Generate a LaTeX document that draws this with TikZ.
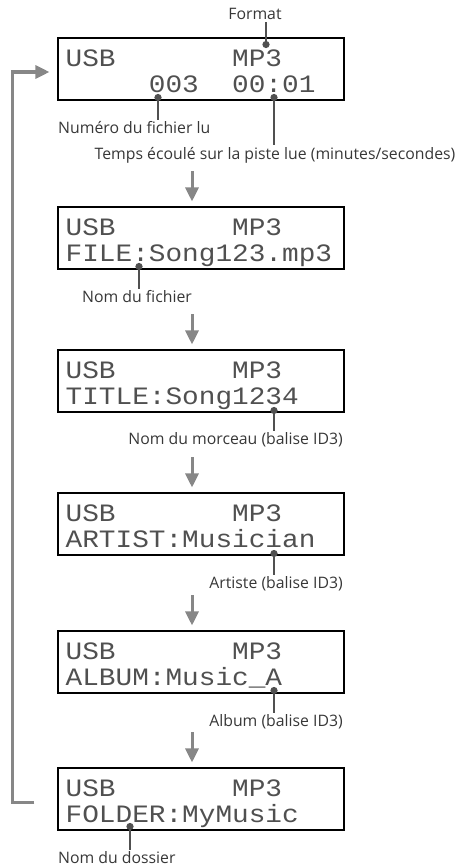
\documentclass[tikz,border=0pt]{standalone}
\usepackage{fontspec}
\setmainfont{Open Sans}
\newfontfamily\lcdfont[FakeStretch=1.11]{Liberation Mono}
\usetikzlibrary{arrows.meta, positioning, calc}
\definecolor{flowgray}{RGB}{135,135,135}
\definecolor{leadgray}{RGB}{80,80,80}
\definecolor{lcdtext}{RGB}{80,80,80}
\definecolor{labeltext}{RGB}{55,55,55}

\begin{document}
\begin{tikzpicture}[x=1pt, y=-1pt,
        lcdbox/.style={rectangle, draw=black, line width=1.1pt, minimum width=286pt,
                       minimum height=62pt, inner sep=0pt},
        lcdrow/.style={anchor=base west, inner sep=0pt, text=lcdtext,
                       font=\lcdfont\fontsize{25}{26}\selectfont},
        lbl/.style={text=labeltext, font=\fontsize{15.8}{18}\selectfont, inner sep=2pt},
        flow/.style={draw=flowgray, line width=3pt, -{Triangle[length=14pt, width=13pt]}},
        leader/.style={draw=leadgray, line width=2.6pt, {Circle[length=7pt]}-}
    ]
        \useasboundingbox (0,0) rectangle (471,867);
        \foreach \i/\y/\txt in {
            1/69/{~~~~~003~~00:01},
            2/238/{FILE:Song123.mp3},
            3/381/{TITLE:Song1234},
            4/524/{ARTIST:Musician},
            5/662/{ALBUM:Music\_A},
            6/799/{FOLDER:MyMusic}}
        {
            \node[lcdbox] (b\i) at (201,\y) {};
            \node[lcdrow] (u\i) at ($(b\i.north west)+(8,29)$) {USB~~~~~~~MP3};
            \node[lcdrow] (l\i) at ($(b\i.north west)+(8,55)$) {\txt};
        }
        \foreach \j in {2,...,6}
            \draw[flow] ([xshift=-9pt, yshift=35pt]b\j.north) -- ([xshift=-9pt, yshift=5pt]b\j.north);
        % retour vers le premier affichage
        \draw[flow] ([xshift=-23pt, yshift=-3pt]b6.west) -- ++(-22,0) |- ([xshift=-8pt, yshift=-3pt]b1.west);

        \node[lbl] (fmt) at (255,14) {Format};
        \node[lbl, anchor=west] (num) at (56,128) {Numéro du fichier lu};
        \node[lbl] (tps) at (275,155) {Temps écoulé sur la piste lue (minutes/secondes)};
        \node[lbl] (fic) at (137,297) {Nom du fichier};
        \node[lbl, anchor=east] (mor) at (345,440) {Nom du morceau (balise ID3)};
        \node[lbl, anchor=east] (art) at (345,584) {Artiste (balise ID3)};
        \node[lbl, anchor=east] (alb) at (345,722) {Album (balise ID3)};
        \node[lbl, anchor=west] (dos) at (56,858) {Nom du dossier};

        \coordinate (pfmt) at (266,48);
        \coordinate (pnum) at (158,94);
        \coordinate (ptps) at (274,94);
        \coordinate (pfic) at (139,263);
        \coordinate (pmor) at (274,407);
        \coordinate (part) at (274,550);
        \coordinate (palb) at (274,687);
        \coordinate (pdos) at (130,823);

        \draw[leader] (pfmt) -- (fmt.south -| pfmt);
        \foreach \p/\n in {pnum/num, ptps/tps, pfic/fic, pmor/mor, part/art, palb/alb, pdos/dos}
            \draw[leader] (\p) -- (\n.north -| \p);
    \end{tikzpicture}
\end{document}
